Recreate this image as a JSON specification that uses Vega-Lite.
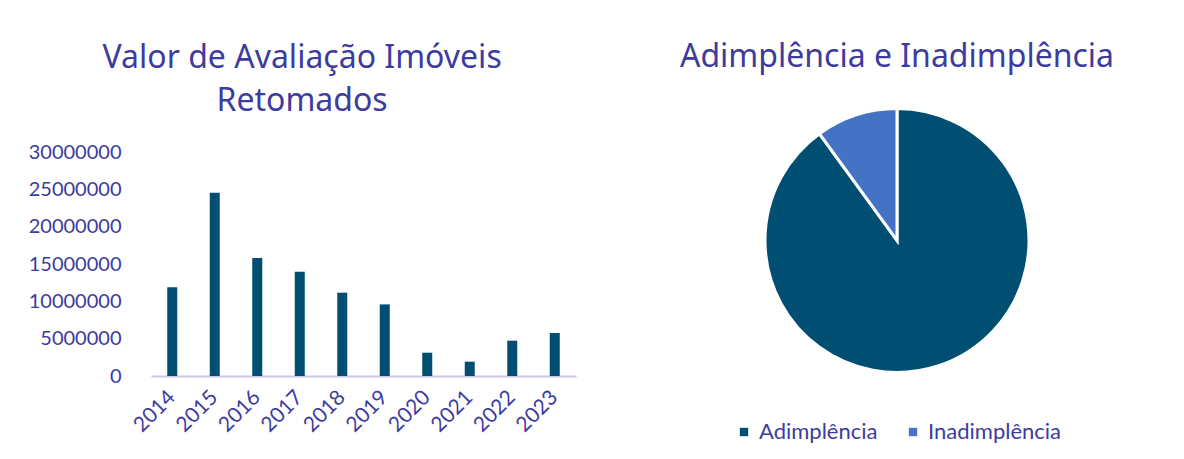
{
  "$schema": "https://vega.github.io/schema/vega-lite/v6.json",
  "padding": {"left": 28, "top": 40, "right": 0, "bottom": 0},
  "background": "white",
  "config": {
    "font": "Lato",
    "view": {"stroke": null},
    "title": {"color": "#3D3BA0", "fontSize": 32, "fontWeight": "normal", "font": "Noto Sans"},
    "legend": {"layout": {"bottom": {"anchor": "middle"}}}
  },
  "spacing": 101,
  "resolve": {"scale": {"color": "independent"}, "legend": {"color": "independent"}},
  "hconcat": [
    {
      "title": {"text": ["Valor de Avaliação Imóveis", "Retomados"], "lineHeight": 43, "offset": 24, "anchor": "middle", "frame": "bounds"},
      "width": 425,
      "height": 224,
      "data": {"values": [
        {"ano": "2014", "valor": 11900000},
        {"ano": "2015", "valor": 24550000},
        {"ano": "2016", "valor": 15800000},
        {"ano": "2017", "valor": 13970000},
        {"ano": "2018", "valor": 11160000},
        {"ano": "2019", "valor": 9590000},
        {"ano": "2020", "valor": 3120000},
        {"ano": "2021", "valor": 1920000},
        {"ano": "2022", "valor": 4730000},
        {"ano": "2023", "valor": 5760000}
      ]},
      "mark": {"type": "bar", "color": "#004F73", "width": 10},
      "encoding": {
        "x": {"field": "ano", "type": "ordinal", "title": null,
          "scale": {"paddingInner": 0, "paddingOuter": 0},
          "axis": {"labelAngle": -45, "labelAlign": "right", "labelBaseline": "middle", "labelFontSize": 21, "labelColor": "#3D3BA0", "labelPadding": 18, "ticks": false, "domainColor": "#C9C6EE", "domainWidth": 2, "labelFont": "Lato"}},
        "y": {"field": "valor", "type": "quantitative", "title": null,
          "scale": {"domain": [0, 30000000]},
          "axis": {"values": [0, 5000000, 10000000, 15000000, 20000000, 25000000, 30000000], "format": "d", "grid": false, "domain": false, "ticks": false, "labelFontSize": 20, "labelColor": "#3D3BA0", "labelPadding": 30, "labelFont": "Lato"}}
      }
    },
    {
      "title": {"text": "Adimplência e Inadimplência", "offset": 29, "anchor": "middle"},
      "width": 440,
      "height": 177,
      "data": {"values": [
        {"categoria": "Adimplência", "valor": 90, "ordem": 1},
        {"categoria": "Inadimplência", "valor": 10, "ordem": 2}
      ]},
      "mark": {"type": "arc", "stroke": "white", "strokeWidth": 3, "radius": 132},
      "encoding": {
        "theta": {"field": "valor", "type": "quantitative", "stack": true},
        "order": {"field": "ordem", "type": "quantitative"},
        "color": {"field": "categoria", "type": "nominal",
          "scale": {"domain": ["Adimplência", "Inadimplência"], "range": ["#004F73", "#4472C4"]},
          "legend": {"orient": "bottom", "direction": "horizontal", "title": null, "symbolType": "square", "symbolSize": 70, "symbolStrokeWidth": 0, "labelFontSize": 22, "labelColor": "#3D3BA0", "labelFont": "Lato", "columnPadding": 24, "offset": 92}}
      }
    }
  ]
}
